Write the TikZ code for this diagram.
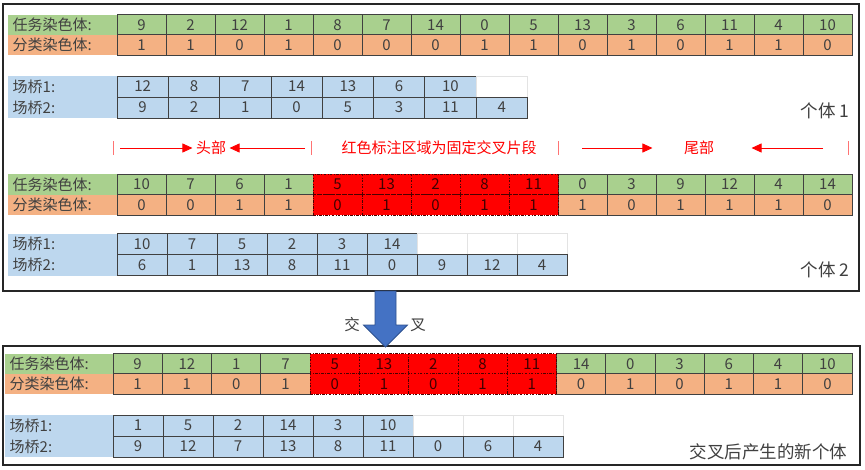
\documentclass[tikz,border=0pt]{standalone}
\usepackage{fontspec}
\setmainfont{Noto Sans CJK SC}
\usetikzlibrary{arrows.meta,positioning,calc}

\definecolor{gcell}{HTML}{A9D08E}
\definecolor{ocell}{HTML}{F4B183}
\definecolor{bcell}{HTML}{BDD7EE}
\definecolor{rcell}{HTML}{FF0000}
\definecolor{txt}{HTML}{404040}
\definecolor{arrblue}{HTML}{4472C4}
\definecolor{arredge}{HTML}{2F528F}

\begin{document}
\begin{tikzpicture}[
    x=1pt, y=-1pt,
    text=txt,
    cell/.style={rectangle, draw=black!75, line width=0.7pt, inner sep=0pt,
                 minimum width=49pt, minimum height=20.5pt,
                 font=\fontsize{15}{15}\selectfont},
    gc/.style={cell, fill=gcell},
    oc/.style={cell, fill=ocell},
    rc/.style={cell, fill=rcell, draw=red!30!black, text=red!25!black,
               dash pattern=on 2.5pt off 1.5pt on 0.7pt off 1.5pt},
    bc/.style={cell, fill=bcell, minimum width=51.3pt, minimum height=21pt},
    ec/.style={cell, draw=gray!22, minimum width=51.3pt, minimum height=21pt},
    lab/.style={rectangle, anchor=west, inner xsep=4.5pt, inner ysep=0pt,
                text width=100pt, align=left, minimum height=20.5pt,
                font=\fontsize{15}{15}\selectfont},
    frame/.style={draw=black!85, line width=1.4pt},
    note/.style={anchor=east, font=\fontsize{17.5}{17.5}\selectfont},
    redtxt/.style={text=red, font=\fontsize{15}{15}\selectfont},
    redarr/.style={draw=red, line width=0.8pt, -{Triangle[length=10pt,width=9pt]}},
    tick/.style={draw=red!55, line width=0.8pt},
]
\fill[white] (0,0) rectangle (865,469);
\useasboundingbox (0,0) rectangle (865,469);

%% Marcs dels individus
\draw[frame] (3,4) rectangle (859,291);
\draw[frame] (3,346) rectangle (860,465);

%% Individu 1
\node[lab, fill=gcell] (a-tl) at (8,25) {任务染色体:};
\node[lab, fill=ocell] (a-cl) at (8,45) {分类染色体:};
\foreach \v [count=\i] in {9,2,12,1,8,7,14,0,5,13,3,6,11,4,10}
  \node[gc] (a-t\i) at ({92.5+49*\i},25) {\v};
\foreach \v [count=\i] in {1,1,0,1,0,0,0,1,1,0,1,0,1,1,0}
  \node[oc] (a-c\i) at ({92.5+49*\i},45) {\v};

\node[lab, fill=bcell, minimum height=21pt] (a-b1l) at (8,86.5) {场桥1:};
\node[lab, fill=bcell, minimum height=21pt] (a-b2l) at (8,107.5) {场桥2:};
\foreach \v [count=\i] in {12,8,7,14,13,6,10}
  \node[bc] (a-p\i) at ({91.35+51.3*\i},86.5) {\v};
\node[ec] (a-p8) at ({91.35+51.3*8},86.5) {};
\foreach \v [count=\i] in {9,2,1,0,5,3,11,4}
  \node[bc] (a-q\i) at ({91.35+51.3*\i},107.5) {\v};
\node[note] (a-name) at (853,111) {个体 1};

%% Marques de cap, segment i cua
\coordinate (k1) at (113,148);
\coordinate (k2) at (311,148);
\coordinate (k3) at (558,148);
\coordinate (k4) at (848,148);
\foreach \k in {k1,k2,k3,k4}
  \draw[tick] ($(\k)+(0,-7)$) -- ($(\k)+(0,7)$);
\node[redtxt] (head) at (211,148) {头部};
\node[redtxt] (mid)  at (439,148) {红色标注区域为固定交叉片段};
\node[redtxt] (tail) at (699,148) {尾部};
\draw[redarr, shorten <=7pt] (k1) -- (head.west);
\draw[redarr, shorten <=6pt] (k2) -- (head.east);
\draw[redarr, shorten <=24pt, shorten >=28pt] (k3) -- (tail.west);
\draw[redarr, shorten <=25pt, shorten >=34pt] (k4) -- (tail.east);

%% Individu 2
\node[lab, fill=gcell] (b-tl) at (8,184.5) {任务染色体:};
\node[lab, fill=ocell] (b-cl) at (8,205) {分类染色体:};
\foreach \v [count=\i] in {10,7,6,1}
  \node[gc] (b-t\i) at ({92.5+49*\i},184.5) {\v};
\foreach \v [count=\i from 10] in {0,3,9,12,4,14}
  \node[gc] (b-t\i) at ({92.5+49*\i},184.5) {\v};
\foreach \v [count=\i] in {0,0,1,1}
  \node[oc] (b-c\i) at ({92.5+49*\i},205) {\v};
\foreach \v [count=\i from 10] in {1,0,1,1,1,0}
  \node[oc] (b-c\i) at ({92.5+49*\i},205) {\v};
\foreach \v [count=\i from 5] in {5,13,2,8,11}
  \node[rc] (b-t\i) at ({92.5+49*\i},184.5) {\v};
\foreach \v [count=\i from 5] in {0,1,0,1,1}
  \node[rc] (b-c\i) at ({92.5+49*\i},205) {\v};

\node[lab, fill=bcell, minimum height=21pt] (b-b1l) at (8,244) {场桥1:};
\node[lab, fill=bcell, minimum height=21pt] (b-b2l) at (8,265) {场桥2:};
\foreach \v [count=\i] in {10,7,5,2,3,14}
  \node[bc, minimum width=50pt] (b-p\i) at ({92+50*\i},244) {\v};
\foreach \i in {7,8,9}
  \node[ec, minimum width=50pt] (b-p\i) at ({92+50*\i},244) {};
\foreach \v [count=\i] in {6,1,13,8,11,0,9,12,4}
  \node[bc, minimum width=50pt] (b-q\i) at ({92+50*\i},265) {\v};
\node[note] (b-name) at (853,270) {个体 2};

%% Fletxa de creuament
\coordinate (x-top) at (385.5,291);
\coordinate (x-tip) at (385.5,347);
\filldraw[fill=arrblue, draw=arredge, line width=0.8pt]
  ($(x-top)+(-10.5,0)$) -- ($(x-top)+(10.5,0)$) -- ($(x-tip)+(10.5,-22)$)
  -- ($(x-tip)+(22,-22)$) -- (x-tip) -- ($(x-tip)+(-22,-22)$)
  -- ($(x-tip)+(-10.5,-22)$) -- cycle;
\node[font=\fontsize{15.5}{15.5}\selectfont] (x-l) at (352,325) {交};
\node[font=\fontsize{15.5}{15.5}\selectfont] (x-r) at (418,325) {叉};

%% Nou individu
\node[lab, fill=gcell, text width=99pt] (c-tl) at (5,364) {任务染色体:};
\node[lab, fill=ocell, text width=99pt] (c-cl) at (5,384) {分类染色体:};
\foreach \v [count=\i] in {9,12,1,7}
  \node[gc, minimum width=49.27pt] (c-t\i) at ({88.37+49.27*\i},364) {\v};
\foreach \v [count=\i from 10] in {14,0,3,6,4,10}
  \node[gc, minimum width=49.27pt] (c-t\i) at ({88.37+49.27*\i},364) {\v};
\foreach \v [count=\i] in {1,1,0,1}
  \node[oc, minimum width=49.27pt] (c-c\i) at ({88.37+49.27*\i},384) {\v};
\foreach \v [count=\i from 10] in {0,1,0,1,1,0}
  \node[oc, minimum width=49.27pt] (c-c\i) at ({88.37+49.27*\i},384) {\v};
\foreach \v [count=\i from 5] in {5,13,2,8,11}
  \node[rc, minimum width=49.27pt] (c-t\i) at ({88.37+49.27*\i},364) {\v};
\foreach \v [count=\i from 5] in {0,1,0,1,1}
  \node[rc, minimum width=49.27pt] (c-c\i) at ({88.37+49.27*\i},384) {\v};

\node[lab, fill=bcell, text width=99pt, minimum height=21pt] (c-b1l) at (5,425.5) {场桥1:};
\node[lab, fill=bcell, text width=99pt, minimum height=21pt] (c-b2l) at (5,446.5) {场桥2:};
\foreach \v [count=\i] in {1,5,2,14,3,10}
  \node[bc, minimum width=50pt] (c-p\i) at ({88+50*\i},425.5) {\v};
\foreach \i in {7,8,9}
  \node[ec, minimum width=50pt] (c-p\i) at ({88+50*\i},425.5) {};
\foreach \v [count=\i] in {9,12,7,13,8,11,0,6,4}
  \node[bc, minimum width=50pt] (c-q\i) at ({88+50*\i},446.5) {\v};
\node[note] (c-name) at (851,452) {交叉后产生的新个体};

\end{tikzpicture}
\end{document}
